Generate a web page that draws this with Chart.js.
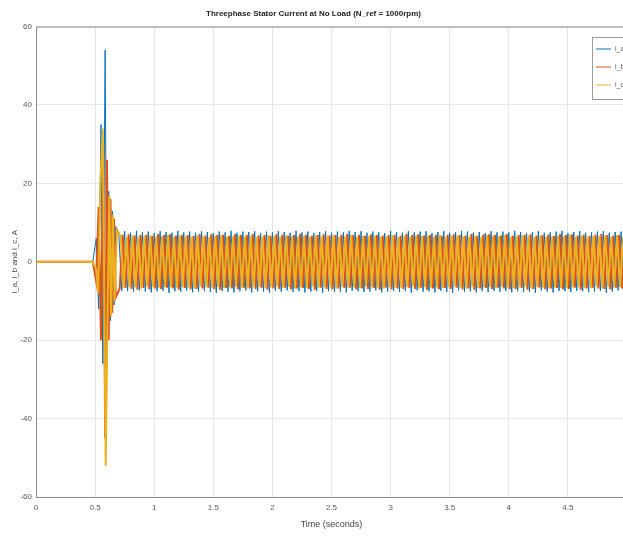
<!DOCTYPE html>
<html>
<head>
<meta charset="utf-8">
<script src="https://cdn.jsdelivr.net/npm/chart.js@4.4.1/dist/chart.umd.min.js"></script>
<style>
  html, body { margin: 0; padding: 0; background: #fff; overflow: hidden; }
  #wrap { width: 660px; height: 536px; }
</style>
</head>
<body>
<div id="wrap"><canvas id="chart" width="660" height="536"></canvas></div>
<script>
// --- données ---
const seriesNames = ['i_a', 'i_b', 'i_c'];
const seriesColors = ['#0072BD', '#D95319', '#EDB120'];
const seriesWidths = [1, 2, 2];
const xTicks = [0, 0.5, 1, 1.5, 2, 2.5, 3, 3.5, 4, 4.5, 5];
const yTicks = [-60, -40, -20, 0, 20, 40, 60];

// démarrage (transitoire)
const iaStartT = [0, 0.48, 0.51, 0.53, 0.55, 0.565, 0.585, 0.60, 0.615, 0.63, 0.645, 0.66, 0.675];
const iaStartV = [0, 0, 6, -12, 35, -26, 54, -22, 18, -15, 13, -11, 9];
const ibStartT = [0, 0.48, 0.51, 0.53, 0.55, 0.57, 0.585, 0.60, 0.615, 0.63, 0.645, 0.66, 0.675];
const ibStartV = [0, 0, -5, 14, -20, 30, -45, 26, -20, 16, -13, 11, -9];
const icStartT = [0, 0.48, 0.51, 0.525, 0.545, 0.565, 0.59, 0.605, 0.62, 0.635, 0.65, 0.665, 0.685];
const icStartV = [0, 0, -2, -8, 20, 34, -52, -14, 17, -14, 12, -10, 8];

// régime permanent (crêtes successives, une toutes les 0.025 s)
const steadyStart = [0.70, 0.7083, 0.7167];
const steadyStep = 0.025;
const iaSteady = [
  7.6,-7.4,7.8,-7.5,7.4,-7.7,7.9,-7.3,7.5,-7.6,
  7.7,-7.8,7.3,-7.5,7.8,-7.4,7.6,-7.9,7.4,-7.5,
  7.9,-7.6,7.5,-7.3,7.7,-7.8,7.4,-7.6,7.8,-7.5,
  7.6,-7.7,7.3,-7.9,7.7,-7.4,7.5,-7.6,7.9,-7.8,
  7.4,-7.5,7.7,-7.3,7.6,-7.8,7.8,-7.5,7.3,-7.6,
  7.7,-7.9,7.5,-7.4,7.8,-7.6,7.6,-7.3,7.4,-7.7,
  7.9,-7.5,7.5,-7.8,7.7,-7.6,7.3,-7.4,7.6,-7.9,
  7.8,-7.5,7.4,-7.7,7.7,-7.6,7.5,-7.8,7.9,-7.4,
  7.6,-7.5,7.8,-7.7,7.4,-7.6,7.7,-7.3,7.5,-7.8,
  7.3,-7.6,7.9,-7.4,7.6,-7.7,7.4,-7.5,7.8,-7.9,
  7.5,-7.3,7.7,-7.6,7.8,-7.5,7.3,-7.8,7.6,-7.4,
  7.8,-7.7,7.4,-7.9,7.5,-7.3,7.9,-7.6,7.7,-7.5,
  7.4,-7.8,7.6,-7.5,7.3,-7.7,7.8,-7.4,7.5,-7.6,
  7.7,-7.4,7.5,-7.8,7.9,-7.5,7.6,-7.7,7.3,-7.6,
  7.6,-7.9,7.8,-7.3,7.4,-7.6,7.5,-7.8,7.7,-7.4,
  7.9,-7.5,7.3,-7.7,7.6,-7.4,7.8,-7.5,7.4,-7.8,
  7.5,-7.6,7.7,-7.4,7.8,-7.9,7.4,-7.6,7.6,-7.3,
  7.7,-7.5,7.5,-7.8,7.3
];
const ibSteady = [
  -6.8,6.9,-6.6,7.0,-6.9,6.7,-7.1,6.8,-6.7,6.9,
  -7.0,6.6,-6.8,7.1,-6.9,6.8,-6.6,7.0,-6.8,6.7,
  -7.1,6.9,-6.7,6.8,-7.0,6.6,-6.9,7.1,-6.8,6.7,
  -6.6,7.0,-6.9,6.8,-7.1,6.9,-6.7,6.6,-6.8,7.0,
  -7.0,6.8,-6.6,6.9,-6.8,7.1,-6.9,6.7,-6.7,6.8,
  -7.1,6.6,-6.8,7.0,-6.9,6.9,-6.6,6.7,-7.0,6.8,
  -6.8,7.1,-6.7,6.9,-6.9,6.6,-7.1,6.8,-6.6,7.0,
  -6.9,6.7,-7.0,6.8,-6.8,6.9,-6.7,7.1,-6.6,6.8,
  -7.0,6.9,-6.8,6.6,-6.9,7.0,-6.7,6.8,-7.1,6.7,
  -6.6,6.8,-7.0,6.9,-6.8,6.6,-6.9,7.1,-6.7,6.8,
  -6.9,7.0,-6.6,6.7,-7.1,6.8,-6.8,6.9,-7.0,6.6,
  -6.7,6.9,-6.9,7.0,-6.6,6.8,-7.0,6.7,-6.8,7.1,
  -7.1,6.6,-6.8,6.9,-6.7,7.0,-6.9,6.8,-6.6,6.7,
  -6.8,7.1,-7.0,6.6,-6.9,6.8,-6.7,6.9,-7.1,7.0,
  -6.9,6.7,-6.6,6.8,-7.0,6.9,-6.8,6.6,-6.7,7.1,
  -7.0,6.8,-6.9,7.0,-6.6,6.7,-7.1,6.9,-6.8,6.6,
  -6.7,6.9,-6.8,7.1,-6.9,6.8,-7.0,6.7,-6.6,6.9,
  -6.8,7.0,-6.7,6.8,-6.9
];
const icSteady = [
  6.5,-6.7,6.3,-6.4,6.6,-6.5,6.4,-6.8,6.6,-6.3,
  6.7,-6.5,6.4,-6.6,6.5,-6.4,6.8,-6.5,6.3,-6.7,
  6.6,-6.4,6.5,-6.6,6.4,-6.8,6.7,-6.3,6.5,-6.5,
  6.3,-6.6,6.6,-6.4,6.8,-6.7,6.4,-6.5,6.5,-6.3,
  6.7,-6.6,6.4,-6.8,6.6,-6.5,6.3,-6.4,6.5,-6.7,
  6.8,-6.5,6.6,-6.3,6.4,-6.6,6.7,-6.4,6.5,-6.8,
  6.3,-6.5,6.6,-6.7,6.4,-6.3,6.8,-6.6,6.5,-6.4,
  6.6,-6.5,6.7,-6.8,6.3,-6.4,6.5,-6.6,6.8,-6.5,
  6.4,-6.7,6.6,-6.3,6.5,-6.5,6.7,-6.6,6.4,-6.8,
  6.5,-6.4,6.8,-6.6,6.3,-6.7,6.6,-6.5,6.4,-6.3,
  6.7,-6.8,6.5,-6.4,6.6,-6.6,6.3,-6.5,6.8,-6.7,
  6.4,-6.5,6.6,-6.3,6.7,-6.6,6.5,-6.8,6.4,-6.4,
  6.6,-6.7,6.3,-6.5,6.8,-6.4,6.6,-6.6,6.5,-6.3,
  6.8,-6.6,6.4,-6.7,6.5,-6.5,6.7,-6.3,6.6,-6.8,
  6.3,-6.4,6.7,-6.6,6.4,-6.8,6.5,-6.5,6.6,-6.7,
  6.5,-6.6,6.8,-6.4,6.3,-6.5,6.7,-6.7,6.4,-6.6,
  6.6,-6.3,6.5,-6.8,6.7,-6.4,6.4,-6.6,6.8,-6.5,
  6.4,-6.7,6.6,-6.5,6.5
];

// --- construction des points ---
function buildPoints(startT, startV, t0, steady) {
  const pts = startT.map((t, i) => ({x: t, y: startV[i]}));
  steady.forEach((v, i) => pts.push({x: +(t0 + i * steadyStep).toFixed(4), y: v}));
  return pts;
}

const allPoints = [
  buildPoints(iaStartT, iaStartV, steadyStart[0], iaSteady),
  buildPoints(ibStartT, ibStartV, steadyStart[1], ibSteady),
  buildPoints(icStartT, icStartV, steadyStart[2], icSteady)
];

const FONT = 'Arial, "Liberation Sans", sans-serif';

// cadre autour de la zone de tracé
const boxPlugin = {
  id: 'box',
  afterDatasetsDraw(chart) {
    const a = chart.chartArea, ctx = chart.ctx;
    ctx.save();
    ctx.strokeStyle = '#8c8c8c';
    ctx.lineWidth = 1;
    ctx.strokeRect(a.left + 0.5, a.top + 0.5, a.right - a.left, a.bottom - a.top);
    ctx.restore();
  }
};

// légende style MATLAB (coin haut droit)
const legendPlugin = {
  id: 'mlegend',
  afterDraw(chart) {
    const ctx = chart.ctx;
    const x = 592, y = 37, w = 44, h = 62;
    ctx.save();
    ctx.fillStyle = '#fff';
    ctx.fillRect(x, y, w, h);
    ctx.strokeStyle = '#9a9a9a';
    ctx.lineWidth = 1;
    ctx.strokeRect(x + 0.5, y + 0.5, w, h);
    ctx.font = '7px ' + FONT;
    ctx.textBaseline = 'middle';
    chart.data.datasets.forEach((ds, i) => {
      const ly = y + 12 + i * 18;
      ctx.strokeStyle = ds.borderColor;
      ctx.lineWidth = 1;
      ctx.beginPath();
      ctx.moveTo(x + 4, ly);
      ctx.lineTo(x + 19, ly);
      ctx.stroke();
      ctx.fillStyle = '#555';
      ctx.fillText(ds.label, x + 23, ly);
    });
    ctx.restore();
  }
};

new Chart(document.getElementById('chart'), {
  type: 'line',
  data: {
    datasets: seriesNames.map((name, i) => ({
      label: name,
      data: allPoints[i],
      borderColor: seriesColors[i],
      backgroundColor: seriesColors[i],
      borderWidth: seriesWidths[i],
      pointRadius: 0,
      tension: 0,
      order: 2 - i
    }))
  },
  options: {
    responsive: false,
    animation: false,
    devicePixelRatio: 1,
    layout: { padding: { right: 33, top: 0, left: 0, bottom: 0 } },
    plugins: {
      legend: { display: false },
      tooltip: { enabled: false },
      title: {
        display: true,
        text: 'Threephase Stator Current at No Load (N_ref = 1000rpm)',
        color: '#222',
        font: { family: FONT, size: 8, weight: 'bold' },
        padding: { top: 9, bottom: 8 }
      }
    },
    scales: {
      x: {
        type: 'linear',
        min: 0,
        max: 5,
        afterBuildTicks: s => { s.ticks = xTicks.map(v => ({value: v})); },
        afterFit: s => { s.height = 39; },
        grid: { color: '#e6e6e6', drawTicks: false },
        border: { display: false },
        ticks: {
          color: '#555',
          padding: 6,
          maxRotation: 0,
          callback: v => String(v),
          font: { family: FONT, size: 8 }
        },
        title: {
          display: true,
          text: 'Time (seconds)',
          color: '#444',
          font: { family: FONT, size: 9 },
          padding: { top: 0, bottom: 6 }
        }
      },
      y: {
        min: -60,
        max: 60,
        afterBuildTicks: s => { s.ticks = yTicks.map(v => ({value: v})); },
        afterFit: s => { s.width = 36; },
        grid: { color: '#e6e6e6', drawTicks: false },
        border: { display: false },
        ticks: {
          color: '#555',
          padding: 4,
          callback: v => String(v),
          font: { family: FONT, size: 8 }
        },
        title: {
          display: true,
          text: 'i_a, i_b and i_c, A',
          color: '#444',
          font: { family: FONT, size: 8 },
          padding: { top: 10, bottom: 0 }
        }
      }
    }
  },
  plugins: [boxPlugin, legendPlugin]
});
</script>
</body>
</html>
